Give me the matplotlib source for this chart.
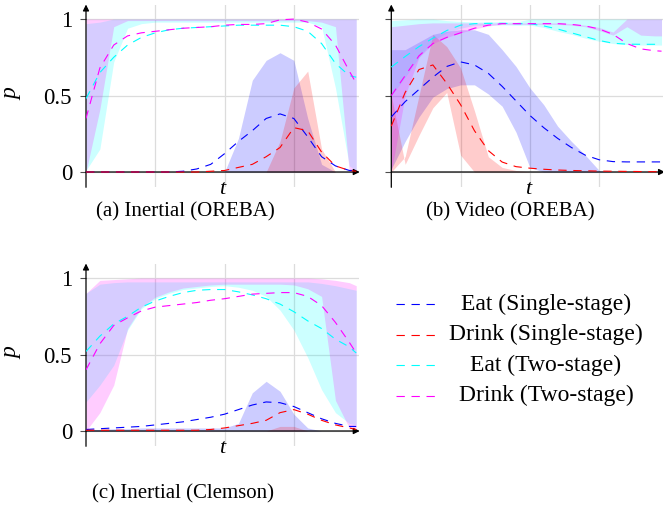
import matplotlib
matplotlib.use("Agg")
import matplotlib.pyplot as plt

plt.rcParams['font.family'] = ['Liberation Serif', 'DejaVu Serif']

# frame index inside the window
frames = [0, 2, 4, 6, 8, 10, 12, 14, 16, 18, 20, 22, 24, 26, 28, 30, 32, 34, 36, 38, 39]

# (a) Inertial (OREBA)
a_eat1_mean = [0, 0, 0, 0, 0, 0, 0, 0.005, 0.02, 0.05, 0.12, 0.2, 0.27, 0.35, 0.38, 0.35, 0.23, 0.1, 0.04, 0.01, 0.01]
a_drink1_mean = [0, 0, 0, 0, 0, 0, 0, 0, 0, 0.005, 0.01, 0.03, 0.05, 0.1, 0.16, 0.29, 0.27, 0.13, 0.04, 0.01, 0.005]
a_eat2_mean = [0.48, 0.65, 0.75, 0.83, 0.88, 0.91, 0.93, 0.94, 0.945, 0.95, 0.955, 0.96, 0.96, 0.96, 0.96, 0.95, 0.92, 0.84, 0.71, 0.63, 0.62]
a_drink2_mean = [0.35, 0.68, 0.83, 0.89, 0.91, 0.92, 0.93, 0.94, 0.945, 0.95, 0.96, 0.965, 0.965, 0.97, 0.995, 1.0, 0.98, 0.935, 0.83, 0.66, 0.58]
a_eat1_lo = [0.0] * 21
a_eat1_hi = [0, 0, 0, 0, 0, 0, 0, 0, 0, 0, 0, 0.22, 0.6, 0.73, 0.78, 0.73, 0.35, 0.05, 0, 0, 0]
a_drink1_lo = [0.0] * 21
a_drink1_hi = [0, 0, 0, 0, 0, 0, 0, 0, 0, 0, 0, 0, 0, 0, 0.2, 0.55, 0.66, 0.15, 0, 0, 0]
a_eat2_lo = [0.01, 0.15, 0.72, 0.94, 0.97, 0.98, 0.98, 0.98, 0.98, 0.98, 0.98, 0.98, 0.98, 0.98, 0.98, 0.98, 0.98, 0.95, 0.55, 0.04, 0.01]
a_eat2_hi = [0.97, 0.98, 1, 1, 1, 1, 1, 1, 1, 1, 1, 1, 1, 1, 1, 1, 1, 1, 1, 1, 1]
a_drink2_lo = [0.0, 0.41, 0.95, 0.99, 0.99, 0.99, 0.99, 0.99, 0.99, 0.99, 0.99, 0.99, 0.99, 0.99, 0.99, 0.99, 0.99, 0.98, 0.95, 0.0, 0.0]
a_drink2_hi = [1.0] * 21

# (b) Video (OREBA)
b_eat1_mean = [0.36, 0.46, 0.54, 0.62, 0.69, 0.72, 0.70, 0.645, 0.56, 0.465, 0.37, 0.29, 0.22, 0.16, 0.11, 0.08, 0.068, 0.066, 0.066, 0.066, 0.066]
b_drink1_mean = [0.3, 0.52, 0.67, 0.7, 0.58, 0.44, 0.27, 0.14, 0.065, 0.035, 0.025, 0.018, 0.013, 0.01, 0.008, 0.006, 0.005, 0.004, 0.003, 0.002, 0.002]
b_eat2_mean = [0.686, 0.755, 0.82, 0.875, 0.925, 0.96, 0.97, 0.972, 0.972, 0.97, 0.97, 0.955, 0.935, 0.91, 0.885, 0.86, 0.842, 0.836, 0.835, 0.835, 0.835]
b_drink2_mean = [0.5, 0.63, 0.76, 0.84, 0.88, 0.91, 0.94, 0.96, 0.97, 0.97, 0.97, 0.97, 0.97, 0.965, 0.955, 0.935, 0.9, 0.84, 0.805, 0.793, 0.79]
b_eat1_lo = [0.02, 0.2, 0.36, 0.49, 0.545, 0.57, 0.57, 0.51, 0.43, 0.26, 0.03, 0, 0, 0, 0, 0, 0, 0, 0, 0, 0]
b_eat1_hi = [0.8, 0.8, 0.85, 0.9, 0.92, 0.93, 0.93, 0.9, 0.8, 0.69, 0.55, 0.44, 0.3, 0.2, 0.11, 0.01, 0, 0, 0, 0, 0]
b_drink1_lo = [0.5, 0.05, 0.24, 0.42, 0.52, 0.11, 0, 0, 0, 0, 0, 0, 0, 0, 0, 0, 0, 0, 0, 0, 0]
b_drink1_hi = [0.0, 0.1, 0.5, 0.9, 0.82, 0.68, 0.4, 0.1, 0.03, 0.01, 0, 0, 0, 0, 0, 0, 0, 0, 0, 0, 0]
b_eat2_lo = [0.5, 0.62, 0.75, 0.86, 0.91, 0.94, 0.96, 0.962, 0.962, 0.96, 0.96, 0.945, 0.92, 0.9, 0.875, 0.855, 0.84, 0.833, 0.83, 0.83, 0.83]
b_eat2_hi = [0.99, 0.995, 1.0, 1.0, 0.99, 0.985, 0.98, 0.982, 0.982, 0.98, 1, 1, 1, 1, 1, 1, 1, 1, 1, 1, 1]
b_drink2_lo = [0.0, 0.5, 0.75, 0.84, 0.88, 0.91, 0.935, 0.955, 0.965, 0.965, 0.965, 0.965, 0.965, 0.96, 0.95, 0.925, 0.895, 0.95, 0.895, 0.89, 0.89]
b_drink2_hi = [0.95, 0.96, 0.97, 0.975, 0.975, 0.975, 0.975, 0.975, 0.975, 0.975, 0.975, 0.975, 0.975, 0.97, 0.96, 0.945, 0.915, 1, 1, 1, 1]

# (c) Inertial (Clemson)
c_eat1_mean = [0.01, 0.015, 0.02, 0.025, 0.03, 0.04, 0.05, 0.06, 0.075, 0.09, 0.11, 0.14, 0.17, 0.19, 0.185, 0.16, 0.12, 0.08, 0.05, 0.03, 0.03]
c_drink1_mean = [0.005, 0.005, 0.005, 0.005, 0.005, 0.005, 0.005, 0.005, 0.005, 0.01, 0.02, 0.035, 0.05, 0.07, 0.12, 0.14, 0.11, 0.07, 0.04, 0.02, 0.01]
c_eat2_mean = [0.52, 0.62, 0.7, 0.75, 0.81, 0.85, 0.88, 0.905, 0.92, 0.925, 0.925, 0.91, 0.89, 0.865, 0.83, 0.78, 0.72, 0.67, 0.6, 0.55, 0.51]
c_drink2_mean = [0.4, 0.57, 0.69, 0.74, 0.785, 0.81, 0.82, 0.83, 0.84, 0.855, 0.865, 0.88, 0.895, 0.9, 0.905, 0.905, 0.88, 0.82, 0.71, 0.58, 0.51]
c_eat1_lo = [0.0] * 21
c_eat1_hi = [0.01, 0.01, 0.015, 0.015, 0.02, 0.02, 0.02, 0.02, 0.02, 0.02, 0.02, 0.05, 0.25, 0.325, 0.26, 0.11, 0.02, 0, 0, 0, 0]
c_drink1_lo = [0.0] * 21
c_drink1_hi = [0, 0, 0, 0, 0, 0, 0, 0, 0, 0, 0, 0, 0, 0, 0.03, 0.03, 0, 0, 0, 0, 0]
c_eat2_lo = [0.19, 0.3, 0.43, 0.66, 0.8, 0.865, 0.9, 0.925, 0.935, 0.945, 0.95, 0.94, 0.92, 0.88, 0.79, 0.66, 0.48, 0.27, 0.12, 0.05, 0.04]
c_eat2_hi = [0.9, 0.96, 0.97, 0.975, 0.975, 0.975, 0.975, 0.975, 0.975, 0.975, 0.975, 0.975, 0.975, 0.975, 0.975, 0.975, 0.975, 0.965, 0.95, 0.93, 0.92]
c_drink2_lo = [0.0, 0.12, 0.3, 0.67, 0.81, 0.875, 0.91, 0.935, 0.945, 0.955, 0.96, 0.96, 0.96, 0.96, 0.96, 0.955, 0.93, 0.88, 0.2, 0.02, 0.02]
c_drink2_hi = [0.9, 0.985, 0.99, 0.995, 1, 1, 1, 1, 1, 1, 1, 1, 1, 1, 1, 1, 1, 0.995, 0.985, 0.97, 0.95]

labels = ['Eat (Single-stage)', 'Drink (Single-stage)', 'Eat (Two-stage)', 'Drink (Two-stage)']
colors = ['blue', 'red', 'cyan', 'magenta']
DASH = (7.5, 6)


def draw_panel(ax, means, bands, show_ylabels):
    # confidence bands first, then the dashed means on top
    for (lo, hi), c in zip(bands, colors):
        ax.fill_between(frames, lo, hi, color=c, alpha=0.2, lw=0)
    for m, c in zip(means, colors):
        ax.plot(frames, m, color=c, lw=0.8, dashes=DASH, zorder=4)

    ax.set_xlim(0, 39.4)
    ax.set_ylim(-0.1, 1.09)
    ax.set_xticks([10, 20, 30])
    ax.set_xticklabels([])
    ax.set_yticks([0, 0.5, 1])
    ax.set_yticklabels(['0', '0.5', '1'] if show_ylabels else [])
    ax.grid(True, color='#dcdcdc', lw=0.9)
    ax.set_axisbelow(True)
    for s in ax.spines.values():
        s.set_visible(False)
    ax.tick_params(axis='x', length=0)
    ax.tick_params(axis='y', direction='out', length=4, width=0.8, color='0.3',
                   pad=6, labelsize=16.5)

    # pgfplots-like middle axis lines with arrow heads
    arrow = dict(arrowstyle='-|>', color='k', lw=0.9, mutation_scale=9, shrinkA=0, shrinkB=0)
    ax.annotate('', xy=(39.5, 0), xytext=(0, 0), arrowprops=arrow, annotation_clip=False, zorder=3)
    ax.annotate('', xy=(0, 1.095), xytext=(0, -0.1), arrowprops=arrow, annotation_clip=False, zorder=3)

    ax.text(0.5, -0.01, 't', transform=ax.transAxes, ha='center', va='center',
            fontsize=16, style='italic')
    if show_ylabels:
        ax.text(-0.272, 0.51, 'p', transform=ax.transAxes, ha='center', va='center',
                fontsize=17, style='italic', rotation=90)


W, H = 663, 508
fig = plt.figure(figsize=(W / 100, H / 100), dpi=100)

ax_a = fig.add_axes([86 / W, (H - 187.3) / H, 273 / W, 182 / H])
draw_panel(ax_a,
           [a_eat1_mean, a_drink1_mean, a_eat2_mean, a_drink2_mean],
           [(a_eat1_lo, a_eat1_hi), (a_drink1_lo, a_drink1_hi),
            (a_eat2_lo, a_eat2_hi), (a_drink2_lo, a_drink2_hi)], True)

ax_b = fig.add_axes([391.3 / W, (H - 187.3) / H, 273 / W, 182 / H])
draw_panel(ax_b,
           [b_eat1_mean, b_drink1_mean, b_eat2_mean, b_drink2_mean],
           [(b_eat1_lo, b_eat1_hi), (b_drink1_lo, b_drink1_hi),
            (b_eat2_lo, b_eat2_hi), (b_drink2_lo, b_drink2_hi)], False)

ax_c = fig.add_axes([86 / W, (H - 446.3) / H, 273 / W, 182 / H])
draw_panel(ax_c,
           [c_eat1_mean, c_drink1_mean, c_eat2_mean, c_drink2_mean],
           [(c_eat1_lo, c_eat1_hi), (c_drink1_lo, c_drink1_hi),
            (c_eat2_lo, c_eat2_hi), (c_drink2_lo, c_drink2_hi)], True)

# sub-captions
fig.text(185 / W, 1 - 212 / H, '(a) Inertial (OREBA)', ha='center', va='center', fontsize=15)
fig.text(510 / W, 1 - 212 / H, '(b) Video (OREBA)', ha='center', va='center', fontsize=15)
fig.text(183 / W, 1 - 494 / H, '(c) Inertial (Clemson)', ha='center', va='center', fontsize=15)

# legend with centred entries, drawn in pixel space
lax = fig.add_axes([0, 0, 1, 1])
lax.set_xlim(0, W)
lax.set_ylim(H, 0)
lax.axis('off')
for i, (lab, c) in enumerate(zip(labels, colors)):
    y = 304 + i * 30.5
    lax.plot([396, 436], [y, y], color=c, lw=0.8, dashes=DASH)
    lax.text(546, y, lab, ha='center', va='center', fontsize=17)

fig.savefig('out.png', dpi=100)
